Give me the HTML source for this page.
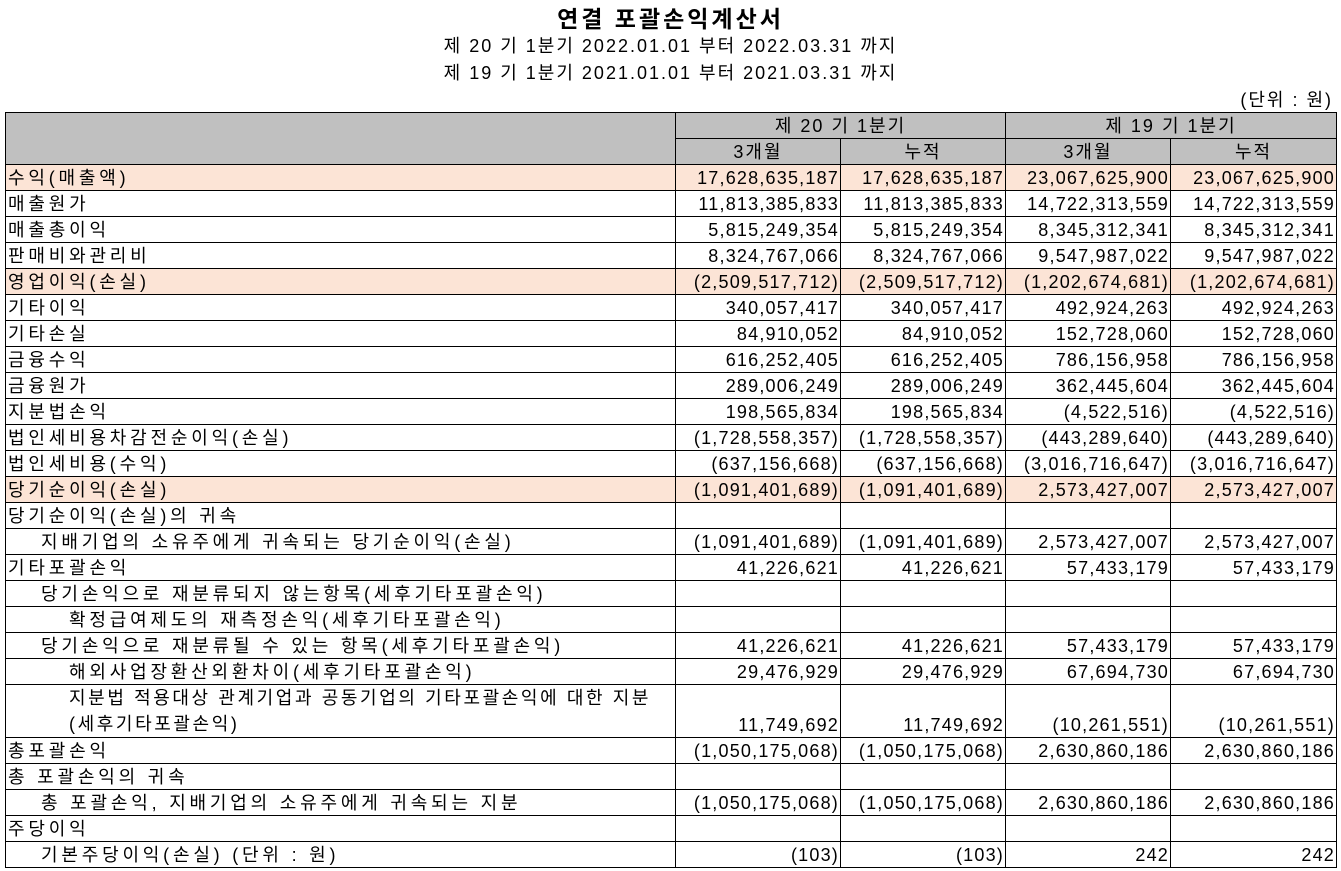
<!DOCTYPE html>
<html><head><meta charset="utf-8"><style>
body{margin:0;width:1341px;height:871px;background:#fff;font-family:"Liberation Sans","Noto Sans CJK KR",sans-serif;color:#000;position:relative;overflow:hidden}
.t{position:absolute;left:0;width:1341px;text-align:center;white-space:nowrap}
table{position:absolute;left:5px;top:112px;border-collapse:collapse;table-layout:fixed;width:1331px}
td{border:1px solid #000;height:25px;padding:0 2px;font-size:18px;line-height:24px;white-space:nowrap;overflow:hidden;letter-spacing:3.8px}
td.n{text-align:right;letter-spacing:1.2px;padding-right:1px}
td.c{text-align:center;letter-spacing:2px}
.h td{background:#c0c0c0}
.o td{background:#fce4d6}
</style></head><body>
<div class="t" style="top:0px;font-size:23px;font-weight:bold;letter-spacing:3px">연결 포괄손익계산서</div>
<div class="t" style="top:32px;font-size:18px;letter-spacing:2px">제 20 기 1분기 2022.01.01 부터 2022.03.31 까지</div>
<div class="t" style="top:59px;font-size:18px;letter-spacing:2px">제 19 기 1분기 2021.01.01 부터 2021.03.31 까지</div>
<div style="position:absolute;right:8px;top:86px;font-size:18px;letter-spacing:2px">(단위 : 원)</div>
<table>
<colgroup><col style="width:670px"><col style="width:165px"><col style="width:165px"><col style="width:165px"><col style="width:166px"></colgroup>
<tr class="h"><td rowspan="2"></td><td class="c" colspan="2">제 20 기 1분기</td><td class="c" colspan="2">제 19 기 1분기</td></tr>
<tr class="h"><td class="c">3개월</td><td class="c">누적</td><td class="c">3개월</td><td class="c">누적</td></tr>
<tr class="o"><td>수익(매출액)</td><td class="n">17,628,635,187</td><td class="n">17,628,635,187</td><td class="n">23,067,625,900</td><td class="n">23,067,625,900</td></tr>
<tr><td>매출원가</td><td class="n">11,813,385,833</td><td class="n">11,813,385,833</td><td class="n">14,722,313,559</td><td class="n">14,722,313,559</td></tr>
<tr><td>매출총이익</td><td class="n">5,815,249,354</td><td class="n">5,815,249,354</td><td class="n">8,345,312,341</td><td class="n">8,345,312,341</td></tr>
<tr><td>판매비와관리비</td><td class="n">8,324,767,066</td><td class="n">8,324,767,066</td><td class="n">9,547,987,022</td><td class="n">9,547,987,022</td></tr>
<tr class="o"><td>영업이익(손실)</td><td class="n">(2,509,517,712)</td><td class="n">(2,509,517,712)</td><td class="n">(1,202,674,681)</td><td class="n">(1,202,674,681)</td></tr>
<tr><td>기타이익</td><td class="n">340,057,417</td><td class="n">340,057,417</td><td class="n">492,924,263</td><td class="n">492,924,263</td></tr>
<tr><td>기타손실</td><td class="n">84,910,052</td><td class="n">84,910,052</td><td class="n">152,728,060</td><td class="n">152,728,060</td></tr>
<tr><td>금융수익</td><td class="n">616,252,405</td><td class="n">616,252,405</td><td class="n">786,156,958</td><td class="n">786,156,958</td></tr>
<tr><td>금융원가</td><td class="n">289,006,249</td><td class="n">289,006,249</td><td class="n">362,445,604</td><td class="n">362,445,604</td></tr>
<tr><td>지분법손익</td><td class="n">198,565,834</td><td class="n">198,565,834</td><td class="n">(4,522,516)</td><td class="n">(4,522,516)</td></tr>
<tr><td>법인세비용차감전순이익(손실)</td><td class="n">(1,728,558,357)</td><td class="n">(1,728,558,357)</td><td class="n">(443,289,640)</td><td class="n">(443,289,640)</td></tr>
<tr><td>법인세비용(수익)</td><td class="n">(637,156,668)</td><td class="n">(637,156,668)</td><td class="n">(3,016,716,647)</td><td class="n">(3,016,716,647)</td></tr>
<tr class="o"><td>당기순이익(손실)</td><td class="n">(1,091,401,689)</td><td class="n">(1,091,401,689)</td><td class="n">2,573,427,007</td><td class="n">2,573,427,007</td></tr>
<tr><td>당기순이익(손실)의 귀속</td><td></td><td></td><td></td><td></td></tr>
<tr><td style="padding-left:35px">지배기업의 소유주에게 귀속되는 당기순이익(손실)</td><td class="n">(1,091,401,689)</td><td class="n">(1,091,401,689)</td><td class="n">2,573,427,007</td><td class="n">2,573,427,007</td></tr>
<tr><td>기타포괄손익</td><td class="n">41,226,621</td><td class="n">41,226,621</td><td class="n">57,433,179</td><td class="n">57,433,179</td></tr>
<tr><td style="padding-left:35px">당기손익으로 재분류되지 않는항목(세후기타포괄손익)</td><td></td><td></td><td></td><td></td></tr>
<tr><td style="padding-left:63px">확정급여제도의 재측정손익(세후기타포괄손익)</td><td></td><td></td><td></td><td></td></tr>
<tr><td style="padding-left:35px">당기손익으로 재분류될 수 있는 항목(세후기타포괄손익)</td><td class="n">41,226,621</td><td class="n">41,226,621</td><td class="n">57,433,179</td><td class="n">57,433,179</td></tr>
<tr><td style="padding-left:63px">해외사업장환산외환차이(세후기타포괄손익)</td><td class="n">29,476,929</td><td class="n">29,476,929</td><td class="n">67,694,730</td><td class="n">67,694,730</td></tr>
<tr><td style="padding-left:63px;height:52px;line-height:26px;letter-spacing:2.6px">지분법 적용대상 관계기업과 공동기업의 기타포괄손익에 대한 지분<br>(세후기타포괄손익)</td><td class="n" style="vertical-align:bottom">11,749,692</td><td class="n" style="vertical-align:bottom">11,749,692</td><td class="n" style="vertical-align:bottom">(10,261,551)</td><td class="n" style="vertical-align:bottom">(10,261,551)</td></tr>
<tr><td>총포괄손익</td><td class="n">(1,050,175,068)</td><td class="n">(1,050,175,068)</td><td class="n">2,630,860,186</td><td class="n">2,630,860,186</td></tr>
<tr><td>총 포괄손익의 귀속</td><td></td><td></td><td></td><td></td></tr>
<tr><td style="padding-left:35px">총 포괄손익, 지배기업의 소유주에게 귀속되는 지분</td><td class="n">(1,050,175,068)</td><td class="n">(1,050,175,068)</td><td class="n">2,630,860,186</td><td class="n">2,630,860,186</td></tr>
<tr><td>주당이익</td><td></td><td></td><td></td><td></td></tr>
<tr><td style="padding-left:35px">기본주당이익(손실) (단위 : 원)</td><td class="n">(103)</td><td class="n">(103)</td><td class="n">242</td><td class="n">242</td></tr>
</table>
</body></html>
